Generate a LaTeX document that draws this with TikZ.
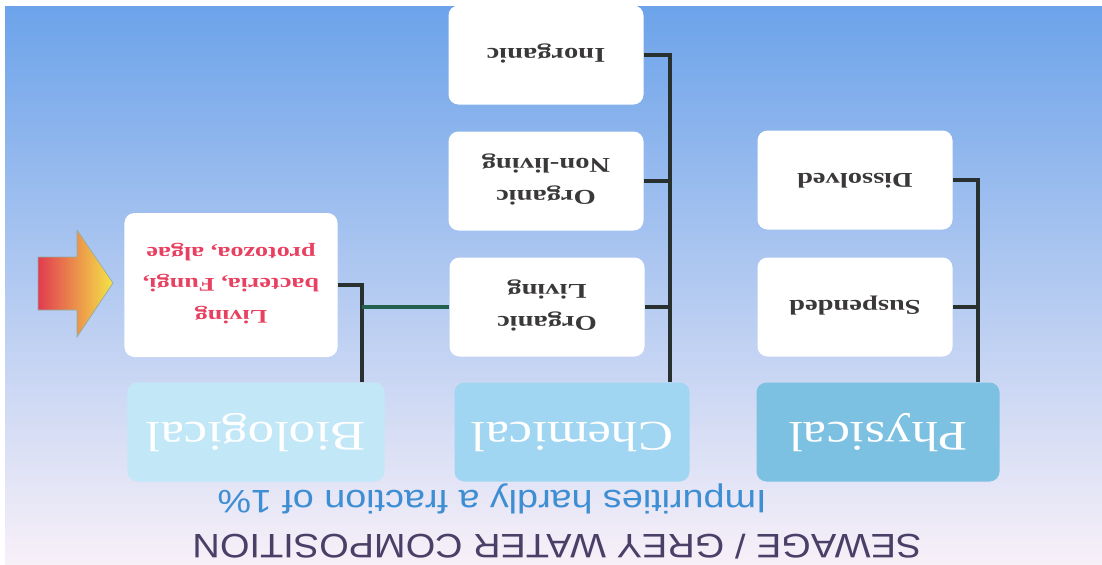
\documentclass[tikz,border=0pt]{standalone}
\usepackage{fontspec}
\usepackage{graphicx}
\setmainfont{Liberation Serif}
\newfontfamily\boxfont[FakeStretch=1.35]{Liberation Serif}
\newfontfamily\catfont[FakeStretch=1.25]{Liberation Serif}
\newfontfamily\impfont[FakeStretch=1.16]{Liberation Sans}
\newfontfamily\capfont[FakeStretch=1.12]{Liberation Sans}
\definecolor{swsky}{RGB}{108,163,234}
\definecolor{swmid}{RGB}{178,200,242}
\definecolor{swpale}{RGB}{248,240,248}
\definecolor{swphys}{RGB}{124,192,226}
\definecolor{swchem}{RGB}{160,214,242}
\definecolor{swbio}{RGB}{194,232,248}
\definecolor{swink}{RGB}{58,56,56}
\definecolor{swline}{RGB}{40,48,48}
\definecolor{swteal}{RGB}{36,96,80}
\definecolor{swred}{RGB}{232,64,96}
\definecolor{swtitle}{RGB}{74,63,102}
\definecolor{swblue}{RGB}{62,142,212}
\definecolor{swarrowa}{RGB}{225,60,80}
\definecolor{swarrowb}{RGB}{245,140,75}
\definecolor{swarrowc}{RGB}{245,228,70}
\usetikzlibrary{calc}

% upside-down text, one or more lines
\newcommand{\flip}[1]{\rotatebox{180}{\begin{tabular}{@{}c@{}}#1\end{tabular}}}

\begin{document}
\begin{tikzpicture}[x=0.2mm, y=-0.2mm,
    leaf/.style={rectangle, rounded corners=0.2cm, fill=white, minimum width=3.9cm, minimum height=1.98cm, inner sep=2pt, font=\boxfont\bfseries\fontsize{12}{18}\selectfont, text=swink},
    cat/.style={rectangle, rounded corners=0.2cm, minimum height=1.98cm, font=\catfont\fontsize{24}{28}\selectfont, text=white},
    link/.style={line width=1.8pt, draw=swline},
    caption/.style={inner sep=0pt}
]
\useasboundingbox (0,0) rectangle (1102,565);
\fill[white] (0,0) rectangle (1102,565);
\fill[top color=swsky, middle color=swmid, bottom color=swpale] (5,6) rectangle (1102,565);

% === Physical ===
\node[cat, fill=swphys, minimum width=4.86cm] (phys) at (878,432) {\flip{Physical}};
\node[leaf] (dissol) at (855,180) {\flip{Dissolved}};
\node[leaf] (susp) at (855,307) {\flip{Suspended}};
\coordinate (pbus) at (978,180);
\draw[link] (dissol.east) -- (pbus) -- (pbus |- phys.north);
\draw[link] (susp.east) -- (susp.east -| pbus);

% === Chemical ===
\node[cat, fill=swchem, minimum width=4.7cm] (chem) at (572,432) {\flip{Chemical}};
\node[leaf] (inorg) at (546,55) {\flip{Inorganic}};
\node[leaf] (nonliv) at (546,181) {\flip{Organic\\Non-living}};
\node[leaf] (orgliv) at (547,307) {\flip{Organic\\Living}};
\coordinate (cbus) at (670,55);
\draw[link] (inorg.east) -- (cbus) -- (cbus |- chem.north);
\draw[link] (nonliv.east) -- (nonliv.east -| cbus);
\draw[link] (orgliv.east) -- (orgliv.east -| cbus);

% === Biological ===
\node[cat, fill=swbio, minimum width=5.14cm] (bio) at (256,432) {\flip{Biological}};
\node[leaf, minimum width=4.26cm, minimum height=2.88cm, text=swred, font=\boxfont\bfseries\fontsize{11}{18}\selectfont] (living) at (231,285) {\flip{Living\\bacteria, Fungi,\\protozoa, algae}};
\coordinate (bbus) at (362,285);
\draw[link] (living.east) -- (bbus) -- (bbus |- bio.north);
\draw[link, draw=swteal] (orgliv.west) -- (orgliv.west -| bbus);

% pointer arrow
\draw[draw=swteal!50, left color=swarrowa, middle color=swarrowb, right color=swarrowc]
    (38,257) -- (77,257) -- (77,230) -- (113,283) -- (77,337) -- (77,310) -- (38,310) -- cycle;

% captions
\node[caption, text=swblue, font=\impfont\fontsize{18.5}{20}\selectfont] (impur) at (492,499) {\rotatebox{180}{Impurities hardly a fraction of 1\%}};
\node[caption, text=swtitle, font=\capfont\fontsize{19.3}{21}\selectfont] (title) at (557,547) {\rotatebox{180}{SEWAGE / GREY WATER COMPOSITION}};
\end{tikzpicture}
\end{document}
